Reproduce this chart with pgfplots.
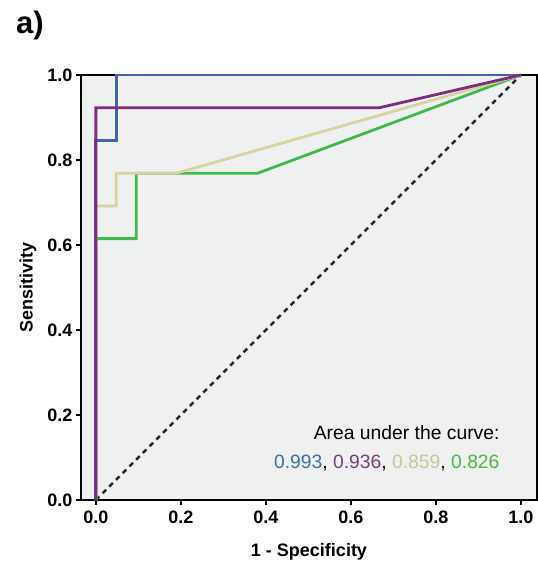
\documentclass[border=0pt]{standalone}
\usepackage{fontspec}
\setmainfont{Liberation Sans}
\usepackage{pgfplots}
\pgfplotsset{compat=1.18}

\definecolor{bgc}{HTML}{EFF1F0}
\definecolor{cblue}{HTML}{4262B2}
\definecolor{cpurp}{HTML}{7D2C80}
\definecolor{cbeige}{HTML}{D8D1A0}
\definecolor{cgreen}{HTML}{3DBA4A}
\definecolor{tblue}{HTML}{3E6FAA}
\definecolor{tpurp}{HTML}{7A3F7A}
\definecolor{tbeige}{HTML}{C8C69A}
\definecolor{tgreen}{HTML}{4DB64A}

\begin{document}
\begin{tikzpicture}[x=1pt,y=1pt]
\useasboundingbox (-81,-66) rectangle (457,500);
\node[font=\fontsize{31}{34}\selectfont\bfseries, anchor=north west, inner sep=0pt] at (-65,489) {a)};
\begin{axis}[
  at={(0,0)}, anchor=south west,
  scale only axis, width=456pt, height=425pt,
  xmin=-0.035, xmax=1.038, ymin=0, ymax=1,
  axis background/.style={fill=bgc},
  axis line style={line width=2.6pt},
  tick style={line width=2.4pt, black},
  major tick length=5pt,
  tick align=outside,
  xtick pos=bottom, ytick pos=left,
  xtick={0,0.2,...,1}, ytick={0,0.2,...,1},
  /pgf/number format/.cd, fixed, fixed zerofill, precision=1, assume math mode=true,
  /pgfplots/.cd,
  ticklabel style={font=\fontsize{18}{20}\selectfont\bfseries},
  xticklabel style={yshift=-2pt},
  yticklabel style={xshift=0pt},
  xlabel={1 - Specificity}, ylabel={Sensitivity},
  label style={font=\fontsize{18}{20}\selectfont\bfseries},
  xlabel style={at={(axis description cs:0.5,0)}, anchor=center, yshift=-52pt},
  ylabel style={at={(axis description cs:0,0.5)}, anchor=center, yshift=53pt},
  clip=false,
]
\addplot[black!85, line width=2.6pt, dash pattern=on 5pt off 4.5pt] coordinates {(0,0) (1,1)};
\addplot[cgreen, line width=2.8pt] coordinates {(0,0) (0,0.615) (0.095,0.615) (0.095,0.769) (0.381,0.769) (1,1)};
\addplot[cbeige, line width=2.8pt] coordinates {(0,0) (0,0.692) (0.048,0.692) (0.048,0.769) (0.190,0.769) (1,1)};
\addplot[cblue, line width=2.8pt] coordinates {(0,0) (0,0.846) (0.048,0.846) (0.048,1) (1,1)};
\addplot[cpurp, line width=2.8pt] coordinates {(0,0) (0,0.923) (0.667,0.923) (1,1)};
\node[anchor=east, font=\fontsize{19.3}{21}\selectfont] at (axis cs:0.958,0.158) {Area under the curve:};
\node[anchor=east, font=\fontsize{19.3}{21}\selectfont] at (axis cs:0.958,0.087)
  {\textcolor{tblue}{0.993}, \textcolor{tpurp}{0.936}, \textcolor{tbeige}{0.859}, \textcolor{tgreen}{0.826}};
\end{axis}
\end{tikzpicture}
\end{document}
